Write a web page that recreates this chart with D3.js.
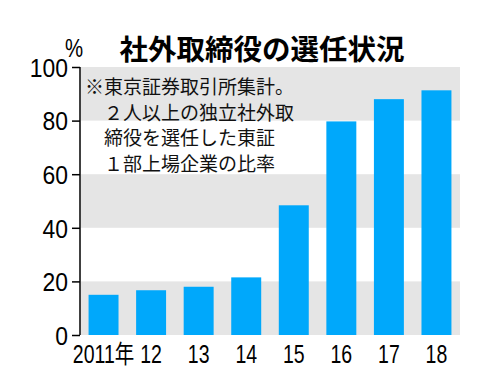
<!DOCTYPE html>
<html>
<head>
<meta charset="utf-8">
<script src="https://cdn.jsdelivr.net/npm/d3@7"></script>
<style>
  body { margin: 0; background: #fff; }
  svg { display: block; }
  .tick-y { font-family: "Liberation Sans", Arial, sans-serif; font-size: 26px; }
  .tick-x { font-family: "Liberation Sans", "Noto Sans CJK JP", sans-serif; font-size: 25px; }
  .cjk { font-family: "Noto Sans CJK JP", sans-serif; }
</style>
</head>
<body>
<script>
var years = ['2011年', '12', '13', '14', '15', '16', '17', '18'];
var values = [15.0, 16.7, 18.0, 21.5, 48.4, 79.7, 88.0, 91.3];
var yTicks = [0, 20, 40, 60, 80, 100];
var bands = [[0, 20], [40, 60], [80, 100]];
var title = '社外取締役の選任状況';
var note = ['※東京証券取引所集計。', '　２人以上の独立社外取', '　締役を選任した東証', '　１部上場企業の比率'];

var W = 489, H = 389;
var plotL = 80, plotR = 460, plotT = 67, plotB = 335;

var svg = d3.select('body').append('svg')
  .attr('width', W)
  .attr('height', H);

var x = d3.scaleBand()
  .domain(years)
  .range([plotL, plotR])
  .paddingInner(0.37)
  .paddingOuter(0.18);

var y = d3.scaleLinear()
  .domain([0, 100])
  .range([plotB, plotT]);

// gray bands
svg.selectAll('rect.band')
  .data(bands)
  .enter().append('rect')
  .attr('class', 'band')
  .attr('x', plotL + 1)
  .attr('width', plotR - plotL - 1)
  .attr('y', function(d) { return y(d[1]); })
  .attr('height', function(d) { return y(d[0]) - y(d[1]); })
  .attr('fill', '#e5e5e5');

// bars
svg.selectAll('rect.bar')
  .data(values)
  .enter().append('rect')
  .attr('class', 'bar')
  .attr('x', function(d, i) { return x(years[i]); })
  .attr('width', x.bandwidth())
  .attr('y', function(d) { return y(d); })
  .attr('height', function(d) { return y(0) - y(d); })
  .attr('fill', '#00a8fb');

// y axis
var yAxis = d3.axisLeft(y)
  .tickValues(yTicks)
  .tickSize(8)
  .tickPadding(0);

var gy = svg.append('g')
  .attr('transform', 'translate(' + plotL + ',0)')
  .call(yAxis);
gy.select('.domain').remove();
gy.attr('font-size', null).attr('font-family', null);
gy.append('line')
  .attr('x1', 0).attr('x2', 0)
  .attr('y1', y(100)).attr('y2', y(0))
  .attr('stroke', '#000').attr('stroke-width', 1.5);
gy.selectAll('.tick line').attr('stroke', '#000').attr('stroke-width', 1.5);
// condensed digits
gy.selectAll('.tick text')
  .attr('class', 'tick-y')
  .attr('fill', '#000')
  .attr('x', null)
  .attr('dy', '0.36em')
  .attr('transform', 'translate(-12,0) scale(0.88,1)');

svg.append('text')
  .attr('transform', 'translate(65,57) scale(0.85,1.05)')
  .attr('font-family', '"Liberation Sans", sans-serif')
  .attr('font-size', 24)
  .text('%');

// x axis labels
var xAxis = d3.axisBottom(x)
  .tickSize(0)
  .tickPadding(0);

var gx = svg.append('g')
  .attr('transform', 'translate(0,' + plotB + ')')
  .call(xAxis);
gx.select('.domain').remove();
gx.attr('font-size', null).attr('font-family', null);
gx.selectAll('.tick text')
  .attr('class', 'tick-x')
  .attr('fill', '#000')
  .attr('y', null)
  .attr('dy', '0.71em')
  .attr('transform', 'translate(0,10) scale(0.78,1)');

// title
svg.append('text')
  .attr('class', 'cjk')
  .attr('x', 262)
  .attr('y', 60)
  .attr('text-anchor', 'middle')
  .attr('font-size', 28.5)
  .attr('font-weight', 'bold')
  .text(title);

// note
svg.append('g').selectAll('text')
  .data(note)
  .enter().append('text')
  .attr('class', 'cjk')
  .attr('x', 85)
  .attr('y', function(d, i) { return 94 + i * 25.5; })
  .attr('font-size', 19)
  .attr('fill', '#111')
  .text(function(d) { return d; });
</script>
</body>
</html>
